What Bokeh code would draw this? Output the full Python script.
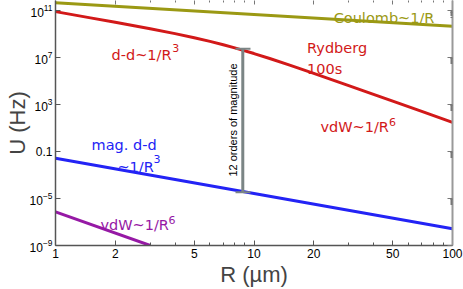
import math
from bokeh.plotting import figure
from bokeh.models import (FixedTicker, LogAxis, Label, LogTickFormatter, Range1d,
                          CustomJSTickFormatter)
from bokeh.embed import file_html
from bokeh.resources import INLINE

# ---------------- data ----------------
R_coulomb = [1, 10, 100]
U_coulomb = [4.9e11, 4.9e10, 4.9e9]

R_rydberg = [1, 1.5, 2, 3, 4, 5, 6, 7, 8, 10, 12, 15, 20, 30, 40, 50, 70, 100]
U_rydberg = [8.7e10, 2.56e10, 1.07e10, 3.0e9, 1.16e9, 5.2e8, 2.53e8, 1.31e8,
             7.06e7, 2.32e7, 8.76e6, 2.51e6, 4.74e5, 4.29e4, 7.69e3, 2.02e3,
             269, 31.6]

R_magdd = [1, 10, 100]
U_magdd = [0.027, 2.7e-5, 2.7e-8]

R_vdw = [1, 3]
U_vdw = [7.4e-7, 1.0e-9]

R_gap = [8.78, 8.78]
U_gap = [5.9e7, 3.5e-5]
R_cap = [8.07, 9.6]

x_ticks = [1, 2, 5, 10, 20, 50, 100]
x_tick_labels = ["1", "2", "5", "10", "20", "50", "100"]
x_minor = [3, 4, 6, 7, 8, 9, 30, 40, 60, 70, 80, 90]
y_ticks = [1e-9, 1e-5, 1e-1, 1e3, 1e7, 1e11]

# ---------------- styles ----------------
OLIVE = "#9b9914"
RED = "#d21919"
BLUE = "#2323f5"
PURPLE = "#9619a5"
GRAY = "#7b8585"
TXT_FONT = "DejaVu Sans"
TICK_FONT = "Liberation Sans"

p = figure(width=463, height=289, x_axis_type="log", y_axis_type="log",
           x_range=Range1d(1, 100), y_range=Range1d(1e-9, 7.76e11),
           output_backend="svg", toolbar_location=None,
           min_border_left=55, min_border_right=11, min_border_top=0,
           min_border_bottom=44)
p.outline_line_color = None
p.xgrid.visible = False
p.ygrid.visible = False
p.background_fill_color = "white"
p.border_fill_color = "white"

# left axis
ya = p.yaxis[0]
ya.ticker = FixedTicker(ticks=y_ticks, minor_ticks=[])
ya.formatter = LogTickFormatter()
ya.major_label_overrides = {0.1: "0.1"}
ya.major_tick_in = 5
ya.major_tick_out = 0
ya.minor_tick_in = 0
ya.minor_tick_out = 0
ya.axis_line_color = "#555555"
ya.axis_line_width = 1.5
ya.major_tick_line_color = "#555555"
ya.major_label_text_font = TICK_FONT
ya.major_label_text_font_size = "12px"
ya.major_label_text_color = "black"
ya.major_label_standoff = 3
ya.axis_label = "U (Hz)"
ya.axis_label_text_font = TICK_FONT
ya.axis_label_text_font_size = "22px"
ya.axis_label_text_font_style = "normal"
ya.axis_label_standoff = -3

# bottom axis
xa = p.xaxis[0]
xa.ticker = FixedTicker(ticks=x_ticks, minor_ticks=x_minor)
xa.major_label_overrides = {t: s for t, s in zip(x_ticks, x_tick_labels)}
xa.major_tick_in = 5
xa.major_tick_out = 0
xa.minor_tick_in = 3
xa.minor_tick_out = 0
xa.axis_line_color = "#555555"
xa.axis_line_width = 1.5
xa.major_tick_line_color = "#555555"
xa.minor_tick_line_color = "#555555"
xa.major_label_text_font = TICK_FONT
xa.major_label_text_font_size = "12px"
xa.major_label_text_color = "black"
xa.major_label_standoff = 3
xa.axis_label = "R (\u00b5m)"
xa.axis_label_text_font = TICK_FONT
xa.axis_label_text_font_size = "22px"
xa.axis_label_text_font_style = "normal"
xa.axis_label_standoff = 1

blank = CustomJSTickFormatter(code="return ''")

# right axis (frame, no labels)
right_minor = [k * t / 10 for t in y_ticks for k in range(3, 10)]
ra = LogAxis(ticker=FixedTicker(ticks=y_ticks, minor_ticks=right_minor),
             formatter=blank, major_label_standoff=0, major_label_text_font_size="1px",
             major_tick_in=5, major_tick_out=0, minor_tick_in=2, minor_tick_out=0,
             axis_line_color="#999999", axis_line_width=2,
             major_tick_line_color="#777777", minor_tick_line_color="#777777")
p.add_layout(ra, "right")

# top axis (ticks only, its line lies at the picture's edge)
ta = LogAxis(ticker=FixedTicker(ticks=x_ticks, minor_ticks=x_minor),
             formatter=blank, major_label_standoff=0, major_label_text_font_size="1px",
             major_tick_in=4, major_tick_out=0, minor_tick_in=2, minor_tick_out=0,
             axis_line_color=None,
             major_tick_line_color="#777777", minor_tick_line_color="#777777")
p.add_layout(ta, "above")

# ---------------- curves ----------------
p.line(R_coulomb, U_coulomb, line_color=OLIVE, line_width=3)
p.line(R_rydberg, U_rydberg, line_color=RED, line_width=3)
p.line(R_magdd, U_magdd, line_color=BLUE, line_width=3)
p.line(R_vdw, U_vdw, line_color=PURPLE, line_width=3)

# 12 orders of magnitude bar
p.line(R_gap, U_gap, line_color=GRAY, line_width=3)
p.segment(x0=[R_cap[0], R_cap[0]], y0=U_gap, x1=[R_cap[1], R_cap[1]], y1=U_gap,
          line_color=GRAY, line_width=2)

# ---------------- annotations ----------------
def lab(x, y, text, color, size="14.5px", **kw):
    p.add_layout(Label(x=x, y=y, text=text, text_color=color, text_font=TXT_FONT,
                       text_font_size=size, text_baseline="alphabetic", **kw))

lab(25.2, 2.6e10, "Coulomb~1/R", OLIVE)
lab(1.915, 1.7e7, "d-d~1/R", RED)
lab(3.87, 6.8e7, "3", RED, size="11px")
lab(18.5, 6.8e7, "Rydberg", RED)
lab(18.5, 1.05e6, "100s", RED)
lab(21.6, 12.6, "vdW~1/R", RED)
lab(47.9, 34, "6", RED, size="11px")
lab(1.52, 0.355, "mag. d-d", BLUE)
lab(2.05, 5.4e-3, "~1/R", BLUE)
lab(3.12, 0.026, "3", BLUE, size="11px")
lab(1.685, 5.4e-8, "vdW~1/R", PURPLE)
lab(3.71, 1.45e-7, "6", PURPLE, size="11px")

p.add_layout(Label(x=7.88, y=50, text="12 orders of magnitude", angle=math.pi / 2,
                   text_align="center", text_baseline="middle", text_color="black",
                   text_font=TICK_FONT, text_font_size="11px"))

open("out.html", "w").write(file_html(p, INLINE))
